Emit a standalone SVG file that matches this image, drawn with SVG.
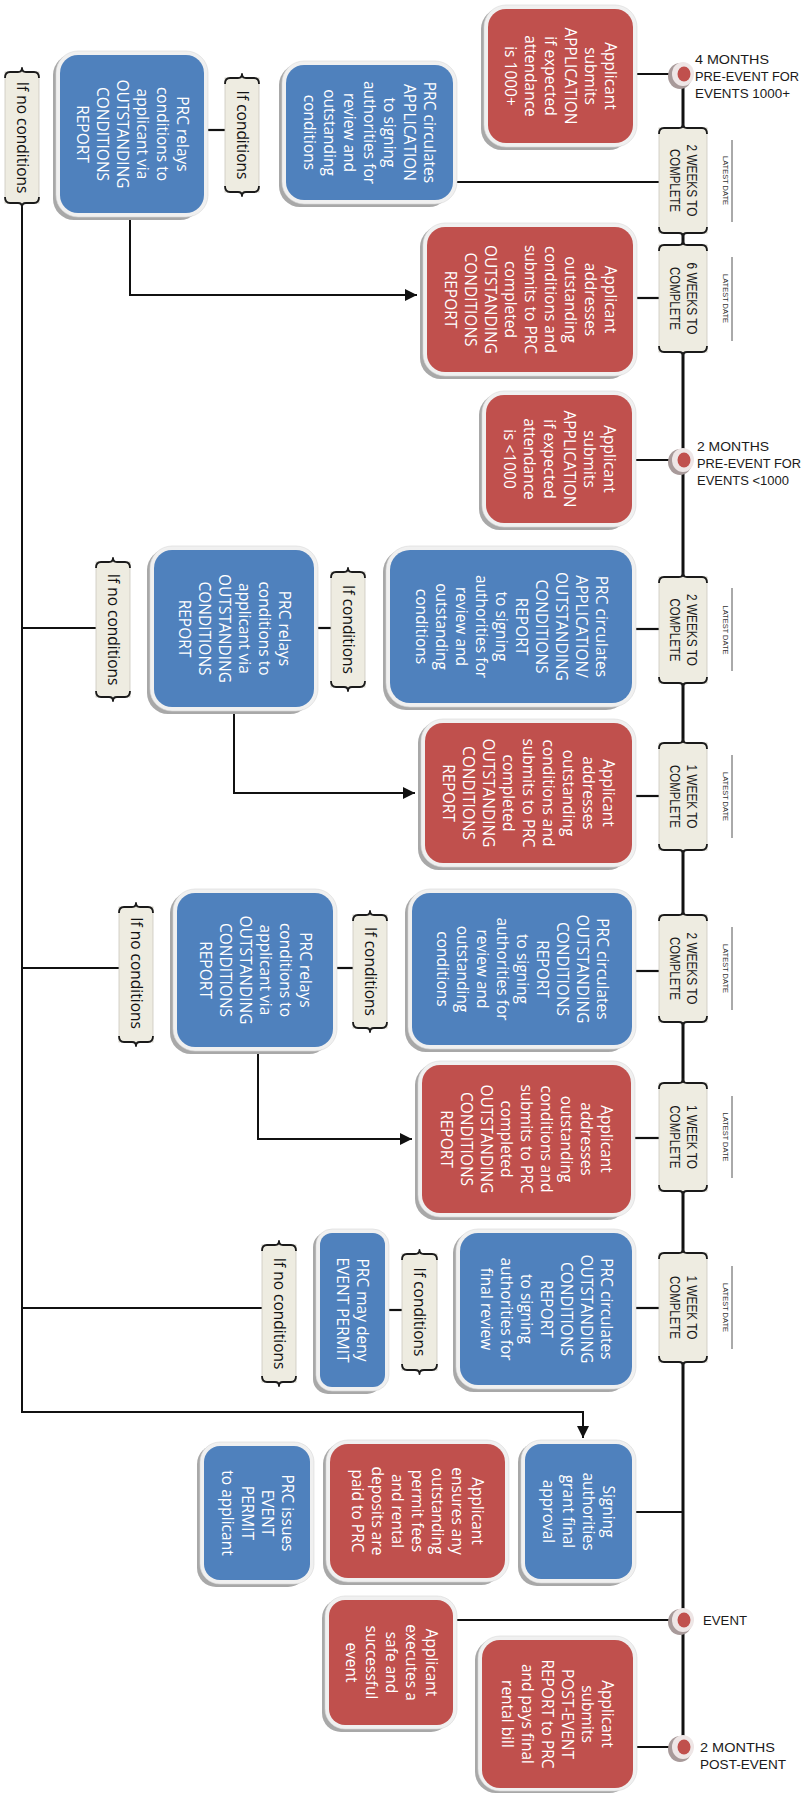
<svg xmlns="http://www.w3.org/2000/svg" width="810" height="1794" viewBox="0 0 810 1794">
<style>
.tl{stroke:#111;stroke-width:3;fill:none}
.cn{stroke:#111;stroke-width:2.2;fill:none}
.ar{stroke:#111;stroke-width:2;fill:none;marker-end:url(#ah)}
.shd{fill:#a8a8a8}
.rim{fill:#f0f0f0;stroke:#d8d8d8;stroke-width:0.6}
.bl{fill:#4f81bd}
.rd{fill:#c0504d}
.wt{font-family:"Open Sans","Noto Sans",sans-serif;font-size:15.5px;fill:#fff;text-anchor:middle}
.bt{font-family:"Open Sans","Noto Sans",sans-serif;font-size:15.5px;fill:#111;text-anchor:middle}
.bg{fill:#eeece1;stroke:#cac9be;stroke-width:0.8}
.br{fill:none;stroke:#1a1a1a;stroke-width:1.8;stroke-linejoin:round}
.dt{font-family:"Liberation Sans",Arial,sans-serif;font-size:14px;fill:#1a1a1a;text-anchor:middle}
.ld{font-family:"Liberation Sans",Arial,sans-serif;font-size:7.5px;fill:#333;text-anchor:middle}
.ll{stroke:#555;stroke-width:1}
.ml{font-family:"Liberation Sans",Arial,sans-serif;font-size:13px;fill:#1a1a1a}
.ring{fill:#eee6e6}
.rsh{fill:#a89a9a}
.dot{fill:#c0504d}
</style>
<defs>
<marker id="ah" markerUnits="userSpaceOnUse" markerWidth="12" markerHeight="12" refX="12" refY="6" orient="auto"><path d="M0,0 L12,6 L0,12 z" fill="#111"/></marker>
</defs>
<rect width="810" height="1794" fill="#fff"/>

<g id="connectors">
<line class="tl" x1="683" y1="74" x2="683" y2="1747"/>
<line class="cn" x1="636" y1="74" x2="683" y2="74"/>
<line class="cn" x1="456" y1="182" x2="659" y2="182"/>
<line class="cn" x1="636" y1="298" x2="659" y2="298"/>
<line class="cn" x1="636" y1="460" x2="683" y2="460"/>
<line class="cn" x1="636" y1="629" x2="659" y2="629"/>
<line class="cn" x1="636" y1="796" x2="659" y2="796"/>
<line class="cn" x1="636" y1="971" x2="659" y2="971"/>
<line class="cn" x1="635" y1="1138" x2="659" y2="1138"/>
<line class="cn" x1="636" y1="1308" x2="659" y2="1308"/>
<line class="cn" x1="636" y1="1512" x2="683" y2="1512"/>
<line class="cn" x1="457" y1="1620" x2="683" y2="1620"/>
<line class="cn" x1="637" y1="1747" x2="683" y2="1747"/>
<line class="cn" x1="208" y1="130" x2="225" y2="130"/>
<line class="cn" x1="318" y1="628" x2="331" y2="628"/>
<line class="cn" x1="337" y1="968" x2="353" y2="968"/>
<line class="cn" x1="389" y1="1310" x2="402" y2="1310"/>
<line class="cn" x1="22" y1="628" x2="96" y2="628"/>
<line class="cn" x1="22" y1="968" x2="119" y2="968"/>
<line class="cn" x1="22" y1="1308" x2="262" y2="1308"/>
<path class="ar" d="M22,207 V1412 H583 V1438"/>
<path class="ar" d="M130,217 V295 H417"/>
<path class="ar" d="M234,711 V793 H415"/>
<path class="ar" d="M258,1051 V1139 H412"/>
</g>

<g id="m1">
<ellipse class="rsh" cx="680" cy="76" rx="12" ry="13"/><ellipse class="ring" cx="683" cy="74" rx="11" ry="12"/><ellipse class="dot" cx="684" cy="74" rx="6.5" ry="7.5"/>
<text class="ml"><tspan x="695" y="64" textLength="74" lengthAdjust="spacingAndGlyphs">4 MONTHS</tspan><tspan x="695" y="81" textLength="104" lengthAdjust="spacingAndGlyphs">PRE-EVENT FOR</tspan><tspan x="695" y="98" textLength="95" lengthAdjust="spacingAndGlyphs">EVENTS 1000+</tspan></text>
</g>
<g id="m2">
<ellipse class="rsh" cx="680" cy="462" rx="12" ry="13"/><ellipse class="ring" cx="683" cy="460" rx="11" ry="12"/><ellipse class="dot" cx="684" cy="460" rx="6.5" ry="7.5"/>
<text class="ml"><tspan x="697" y="451" textLength="72" lengthAdjust="spacingAndGlyphs">2 MONTHS</tspan><tspan x="697" y="468" textLength="104" lengthAdjust="spacingAndGlyphs">PRE-EVENT FOR</tspan><tspan x="697" y="485" textLength="92" lengthAdjust="spacingAndGlyphs">EVENTS &lt;1000</tspan></text>
</g>
<g id="m3">
<ellipse class="rsh" cx="680" cy="1622" rx="12" ry="13"/><ellipse class="ring" cx="683" cy="1620" rx="11" ry="12"/><ellipse class="dot" cx="684" cy="1620" rx="6.5" ry="7.5"/>
<text class="ml"><tspan x="703" y="1625" textLength="44" lengthAdjust="spacingAndGlyphs">EVENT</tspan></text>
</g>
<g id="m4">
<ellipse class="rsh" cx="680" cy="1749" rx="12" ry="13"/><ellipse class="ring" cx="683" cy="1747" rx="11" ry="12"/><ellipse class="dot" cx="684" cy="1747" rx="6.5" ry="7.5"/>
<text class="ml"><tspan x="700" y="1752" textLength="75" lengthAdjust="spacingAndGlyphs">2 MONTHS</tspan><tspan x="700" y="1769" textLength="86" lengthAdjust="spacingAndGlyphs">POST-EVENT</tspan></text>
</g>

<g id="d1">
<rect class="bg" x="659" y="128" width="48" height="105"/>
<path class="br" d="M659,134 Q659,128 664,128 H679 Q683,128 683,124 Q683,128 687,128 H702 Q707,128 707,134"/>
<path class="br" d="M659,227 Q659,233 664,233 H679 Q683,233 683,237 Q683,233 687,233 H702 Q707,233 707,227"/>
<text class="dt" transform="translate(683,180.5) rotate(90)"><tspan x="0" y="-3.5" textLength="72" lengthAdjust="spacingAndGlyphs">2 WEEKS TO</tspan><tspan x="0" y="13.5" textLength="63" lengthAdjust="spacingAndGlyphs">COMPLETE</tspan></text>
<text class="ld" transform="translate(726,180.5) rotate(90)" x="0" y="2.7" textLength="49" lengthAdjust="spacingAndGlyphs">LATEST DATE</text>
<line class="ll" x1="732" y1="140" x2="732" y2="222"/>
</g>
<g id="d2">
<rect class="bg" x="659" y="245" width="48" height="107"/>
<path class="br" d="M659,251 Q659,245 664,245 H679 Q683,245 683,241 Q683,245 687,245 H702 Q707,245 707,251"/>
<path class="br" d="M659,346 Q659,352 664,352 H679 Q683,352 683,356 Q683,352 687,352 H702 Q707,352 707,346"/>
<text class="dt" transform="translate(683,298.5) rotate(90)"><tspan x="0" y="-3.5" textLength="72" lengthAdjust="spacingAndGlyphs">6 WEEKS TO</tspan><tspan x="0" y="13.5" textLength="63" lengthAdjust="spacingAndGlyphs">COMPLETE</tspan></text>
<text class="ld" transform="translate(726,298.5) rotate(90)" x="0" y="2.7" textLength="49" lengthAdjust="spacingAndGlyphs">LATEST DATE</text>
<line class="ll" x1="732" y1="257" x2="732" y2="341"/>
</g>
<g id="d3">
<rect class="bg" x="659" y="577" width="48" height="106"/>
<path class="br" d="M659,583 Q659,577 664,577 H679 Q683,577 683,573 Q683,577 687,577 H702 Q707,577 707,583"/>
<path class="br" d="M659,677 Q659,683 664,683 H679 Q683,683 683,687 Q683,683 687,683 H702 Q707,683 707,677"/>
<text class="dt" transform="translate(683,630) rotate(90)"><tspan x="0" y="-3.5" textLength="72" lengthAdjust="spacingAndGlyphs">2 WEEKS TO</tspan><tspan x="0" y="13.5" textLength="63" lengthAdjust="spacingAndGlyphs">COMPLETE</tspan></text>
<text class="ld" transform="translate(726,630) rotate(90)" x="0" y="2.7" textLength="49" lengthAdjust="spacingAndGlyphs">LATEST DATE</text>
<line class="ll" x1="732" y1="588" x2="732" y2="671"/>
</g>
<g id="d4">
<rect class="bg" x="659" y="743" width="48" height="107"/>
<path class="br" d="M659,749 Q659,743 664,743 H679 Q683,743 683,739 Q683,743 687,743 H702 Q707,743 707,749"/>
<path class="br" d="M659,844 Q659,850 664,850 H679 Q683,850 683,854 Q683,850 687,850 H702 Q707,850 707,844"/>
<text class="dt" transform="translate(683,796.5) rotate(90)"><tspan x="0" y="-3.5" textLength="64" lengthAdjust="spacingAndGlyphs">1 WEEK TO</tspan><tspan x="0" y="13.5" textLength="63" lengthAdjust="spacingAndGlyphs">COMPLETE</tspan></text>
<text class="ld" transform="translate(726,796.5) rotate(90)" x="0" y="2.7" textLength="49" lengthAdjust="spacingAndGlyphs">LATEST DATE</text>
<line class="ll" x1="732" y1="755" x2="732" y2="838"/>
</g>
<g id="d5">
<rect class="bg" x="659" y="915" width="48" height="107"/>
<path class="br" d="M659,921 Q659,915 664,915 H679 Q683,915 683,911 Q683,915 687,915 H702 Q707,915 707,921"/>
<path class="br" d="M659,1016 Q659,1022 664,1022 H679 Q683,1022 683,1026 Q683,1022 687,1022 H702 Q707,1022 707,1016"/>
<text class="dt" transform="translate(683,968.5) rotate(90)"><tspan x="0" y="-3.5" textLength="72" lengthAdjust="spacingAndGlyphs">2 WEEKS TO</tspan><tspan x="0" y="13.5" textLength="63" lengthAdjust="spacingAndGlyphs">COMPLETE</tspan></text>
<text class="ld" transform="translate(726,968.5) rotate(90)" x="0" y="2.7" textLength="49" lengthAdjust="spacingAndGlyphs">LATEST DATE</text>
<line class="ll" x1="732" y1="927" x2="732" y2="1010"/>
</g>
<g id="d6">
<rect class="bg" x="659" y="1083" width="48" height="108"/>
<path class="br" d="M659,1089 Q659,1083 664,1083 H679 Q683,1083 683,1079 Q683,1083 687,1083 H702 Q707,1083 707,1089"/>
<path class="br" d="M659,1185 Q659,1191 664,1191 H679 Q683,1191 683,1195 Q683,1191 687,1191 H702 Q707,1191 707,1185"/>
<text class="dt" transform="translate(683,1137) rotate(90)"><tspan x="0" y="-3.5" textLength="64" lengthAdjust="spacingAndGlyphs">1 WEEK TO</tspan><tspan x="0" y="13.5" textLength="63" lengthAdjust="spacingAndGlyphs">COMPLETE</tspan></text>
<text class="ld" transform="translate(726,1137) rotate(90)" x="0" y="2.7" textLength="49" lengthAdjust="spacingAndGlyphs">LATEST DATE</text>
<line class="ll" x1="732" y1="1096" x2="732" y2="1178"/>
</g>
<g id="d7">
<rect class="bg" x="659" y="1253" width="48" height="109"/>
<path class="br" d="M659,1259 Q659,1253 664,1253 H679 Q683,1253 683,1249 Q683,1253 687,1253 H702 Q707,1253 707,1259"/>
<path class="br" d="M659,1356 Q659,1362 664,1362 H679 Q683,1362 683,1366 Q683,1362 687,1362 H702 Q707,1362 707,1356"/>
<text class="dt" transform="translate(683,1307.5) rotate(90)"><tspan x="0" y="-3.5" textLength="64" lengthAdjust="spacingAndGlyphs">1 WEEK TO</tspan><tspan x="0" y="13.5" textLength="63" lengthAdjust="spacingAndGlyphs">COMPLETE</tspan></text>
<text class="ld" transform="translate(726,1307.5) rotate(90)" x="0" y="2.7" textLength="49" lengthAdjust="spacingAndGlyphs">LATEST DATE</text>
<line class="ll" x1="732" y1="1266" x2="732" y2="1349"/>
</g>

<g id="ifno1">
<rect class="bg" x="5" y="72" width="34" height="131"/>
<path class="br" d="M5,78 Q5,72 10,72 H18 Q22,72 22,68 Q22,72 26,72 H34 Q39,72 39,78"/>
<path class="br" d="M5,197 Q5,203 10,203 H18 Q22,203 22,207 Q22,203 26,203 H34 Q39,203 39,197"/>
<text class="bt" transform="translate(22,137.5) rotate(90)" x="0" y="5.5">If no conditions</text>
</g>
<g id="ifc1">
<rect class="bg" x="225" y="78" width="34" height="114"/>
<path class="br" d="M225,84 Q225,78 230,78 H238 Q242,78 242,74 Q242,78 246,78 H254 Q259,78 259,84"/>
<path class="br" d="M225,186 Q225,192 230,192 H238 Q242,192 242,196 Q242,192 246,192 H254 Q259,192 259,186"/>
<text class="bt" transform="translate(242,135) rotate(90)" x="0" y="5.5">If conditions</text>
</g>
<g id="ifno2">
<rect class="bg" x="96" y="562" width="34" height="135"/>
<path class="br" d="M96,568 Q96,562 101,562 H109 Q113,562 113,558 Q113,562 117,562 H125 Q130,562 130,568"/>
<path class="br" d="M96,691 Q96,697 101,697 H109 Q113,697 113,701 Q113,697 117,697 H125 Q130,697 130,691"/>
<text class="bt" transform="translate(113,629.5) rotate(90)" x="0" y="5.5">If no conditions</text>
</g>
<g id="ifc2">
<rect class="bg" x="331" y="572" width="34" height="115"/>
<path class="br" d="M331,578 Q331,572 336,572 H344 Q348,572 348,568 Q348,572 352,572 H360 Q365,572 365,578"/>
<path class="br" d="M331,681 Q331,687 336,687 H344 Q348,687 348,691 Q348,687 352,687 H360 Q365,687 365,681"/>
<text class="bt" transform="translate(348,629.5) rotate(90)" x="0" y="5.5">If conditions</text>
</g>
<g id="ifno3">
<rect class="bg" x="119" y="907" width="34" height="135"/>
<path class="br" d="M119,913 Q119,907 124,907 H132 Q136,907 136,903 Q136,907 140,907 H148 Q153,907 153,913"/>
<path class="br" d="M119,1036 Q119,1042 124,1042 H132 Q136,1042 136,1046 Q136,1042 140,1042 H148 Q153,1042 153,1036"/>
<text class="bt" transform="translate(136,973) rotate(90)" x="0" y="5.5">If no conditions</text>
</g>
<g id="ifc3">
<rect class="bg" x="353" y="915" width="34" height="113"/>
<path class="br" d="M353,921 Q353,915 358,915 H366 Q370,915 370,911 Q370,915 374,915 H382 Q387,915 387,921"/>
<path class="br" d="M353,1022 Q353,1028 358,1028 H366 Q370,1028 370,1032 Q370,1028 374,1028 H382 Q387,1028 387,1022"/>
<text class="bt" transform="translate(370,971.5) rotate(90)" x="0" y="5.5">If conditions</text>
</g>
<g id="ifno4">
<rect class="bg" x="262" y="1245" width="34" height="137"/>
<path class="br" d="M262,1251 Q262,1245 267,1245 H275 Q279,1245 279,1241 Q279,1245 283,1245 H291 Q296,1245 296,1251"/>
<path class="br" d="M262,1376 Q262,1382 267,1382 H275 Q279,1382 279,1386 Q279,1382 283,1382 H291 Q296,1382 296,1376"/>
<text class="bt" transform="translate(279,1313.5) rotate(90)" x="0" y="5.5">If no conditions</text>
</g>
<g id="ifc4">
<rect class="bg" x="402" y="1254" width="35" height="116"/>
<path class="br" d="M402,1260 Q402,1254 407,1254 H415 Q419.5,1254 419.5,1250 Q419.5,1254 424,1254 H432 Q437,1254 437,1260"/>
<path class="br" d="M402,1364 Q402,1370 407,1370 H415 Q419.5,1370 419.5,1374 Q419.5,1370 424,1370 H432 Q437,1370 437,1364"/>
<text class="bt" transform="translate(419.5,1312) rotate(90)" x="0" y="5.5">If conditions</text>
</g>

<g id="a1">
<rect class="shd" x="481" y="8" width="149" height="142" rx="21"/><rect class="rim" x="484" y="5" width="153" height="142" rx="22"/><rect class="rd" x="488" y="9" width="145" height="134" rx="18"/>
<text class="wt" transform="translate(560.5,76) rotate(90)"><tspan x="0" y="-44.5">Applicant</tspan><tspan x="0" dy="20">submits</tspan><tspan x="0" dy="20">APPLICATION</tspan><tspan x="0" dy="20">if expected</tspan><tspan x="0" dy="20">attendance</tspan><tspan x="0" dy="20">is 1000+</tspan></text>
</g>
<g id="b1">
<rect class="shd" x="279" y="64" width="171" height="143" rx="21"/><rect class="rim" x="282" y="61" width="175" height="143" rx="22"/><rect class="bl" x="286" y="65" width="167" height="135" rx="18"/>
<text class="wt" transform="translate(369.5,132.5) rotate(90)"><tspan x="0" y="-54.5">PRC circulates</tspan><tspan x="0" dy="20">APPLICATION</tspan><tspan x="0" dy="20">to signing</tspan><tspan x="0" dy="20">authorities for</tspan><tspan x="0" dy="20">review and</tspan><tspan x="0" dy="20">outstanding</tspan><tspan x="0" dy="20">conditions</tspan></text>
</g>
<g id="b2">
<rect class="shd" x="53" y="54" width="148" height="166" rx="21"/><rect class="rim" x="56" y="51" width="152" height="166" rx="22"/><rect class="bl" x="60" y="55" width="144" height="158" rx="18"/>
<text class="wt" transform="translate(132,134) rotate(90)"><tspan x="0" y="-44.5">PRC relays</tspan><tspan x="0" dy="20">conditions to</tspan><tspan x="0" dy="20">applicant via</tspan><tspan x="0" dy="20">OUTSTANDING</tspan><tspan x="0" dy="20">CONDITIONS</tspan><tspan x="0" dy="20">REPORT</tspan></text>
</g>
<g id="a2">
<rect class="shd" x="420" y="226" width="210" height="153" rx="21"/><rect class="rim" x="423" y="223" width="214" height="153" rx="22"/><rect class="rd" x="427" y="227" width="206" height="145" rx="18"/>
<text class="wt" transform="translate(530,299.5) rotate(90)"><tspan x="0" y="-74.5">Applicant</tspan><tspan x="0" dy="20">addresses</tspan><tspan x="0" dy="20">outstanding</tspan><tspan x="0" dy="20">conditions and</tspan><tspan x="0" dy="20">submits to PRC</tspan><tspan x="0" dy="20">completed</tspan><tspan x="0" dy="20">OUTSTANDING</tspan><tspan x="0" dy="20">CONDITIONS</tspan><tspan x="0" dy="20">REPORT</tspan></text>
</g>
<g id="a3">
<rect class="shd" x="479" y="394" width="150" height="136" rx="21"/><rect class="rim" x="482" y="391" width="154" height="136" rx="22"/><rect class="rd" x="486" y="395" width="146" height="128" rx="18"/>
<text class="wt" transform="translate(559,459) rotate(90)"><tspan x="0" y="-44.5">Applicant</tspan><tspan x="0" dy="20">submits</tspan><tspan x="0" dy="20">APPLICATION</tspan><tspan x="0" dy="20">if expected</tspan><tspan x="0" dy="20">attendance</tspan><tspan x="0" dy="20">is &lt;1000</tspan></text>
</g>
<g id="b3">
<rect class="shd" x="383" y="549" width="246" height="161" rx="23"/><rect class="rim" x="386" y="546" width="250" height="161" rx="24"/><rect class="bl" x="390" y="550" width="242" height="153" rx="20"/>
<text class="wt" transform="translate(511,626.5) rotate(90)"><tspan x="0" y="-84.5">PRC circulates</tspan><tspan x="0" dy="20">APPLICATION/</tspan><tspan x="0" dy="20">OUTSTANDING</tspan><tspan x="0" dy="20">CONDITIONS</tspan><tspan x="0" dy="20">REPORT</tspan><tspan x="0" dy="20">to signing</tspan><tspan x="0" dy="20">authorities for</tspan><tspan x="0" dy="20">review and</tspan><tspan x="0" dy="20">outstanding</tspan><tspan x="0" dy="20">conditions</tspan></text>
</g>
<g id="b4">
<rect class="shd" x="147" y="549" width="164" height="165" rx="21"/><rect class="rim" x="150" y="546" width="168" height="165" rx="22"/><rect class="bl" x="154" y="550" width="160" height="157" rx="18"/>
<text class="wt" transform="translate(234,628.5) rotate(90)"><tspan x="0" y="-44.5">PRC relays</tspan><tspan x="0" dy="20">conditions to</tspan><tspan x="0" dy="20">applicant via</tspan><tspan x="0" dy="20">OUTSTANDING</tspan><tspan x="0" dy="20">CONDITIONS</tspan><tspan x="0" dy="20">REPORT</tspan></text>
</g>
<g id="a4">
<rect class="shd" x="418" y="722" width="211" height="148" rx="21"/><rect class="rim" x="421" y="719" width="215" height="148" rx="22"/><rect class="rd" x="425" y="723" width="207" height="140" rx="18"/>
<text class="wt" transform="translate(528.5,793) rotate(90)"><tspan x="0" y="-74.5">Applicant</tspan><tspan x="0" dy="20">addresses</tspan><tspan x="0" dy="20">outstanding</tspan><tspan x="0" dy="20">conditions and</tspan><tspan x="0" dy="20">submits to PRC</tspan><tspan x="0" dy="20">completed</tspan><tspan x="0" dy="20">OUTSTANDING</tspan><tspan x="0" dy="20">CONDITIONS</tspan><tspan x="0" dy="20">REPORT</tspan></text>
</g>
<g id="b5">
<rect class="shd" x="405" y="892" width="224" height="160" rx="21"/><rect class="rim" x="408" y="889" width="228" height="160" rx="22"/><rect class="bl" x="412" y="893" width="220" height="152" rx="18"/>
<text class="wt" transform="translate(522,969) rotate(90)"><tspan x="0" y="-74.5">PRC circulates</tspan><tspan x="0" dy="20">OUTSTANDING</tspan><tspan x="0" dy="20">CONDITIONS</tspan><tspan x="0" dy="20">REPORT</tspan><tspan x="0" dy="20">to signing</tspan><tspan x="0" dy="20">authorities for</tspan><tspan x="0" dy="20">review and</tspan><tspan x="0" dy="20">outstanding</tspan><tspan x="0" dy="20">conditions</tspan></text>
</g>
<g id="b6">
<rect class="shd" x="170" y="892" width="160" height="162" rx="21"/><rect class="rim" x="173" y="889" width="164" height="162" rx="22"/><rect class="bl" x="177" y="893" width="156" height="154" rx="18"/>
<text class="wt" transform="translate(255,970) rotate(90)"><tspan x="0" y="-44.5">PRC relays</tspan><tspan x="0" dy="20">conditions to</tspan><tspan x="0" dy="20">applicant via</tspan><tspan x="0" dy="20">OUTSTANDING</tspan><tspan x="0" dy="20">CONDITIONS</tspan><tspan x="0" dy="20">REPORT</tspan></text>
</g>
<g id="a5">
<rect class="shd" x="415" y="1064" width="213" height="156" rx="21"/><rect class="rim" x="418" y="1061" width="217" height="156" rx="22"/><rect class="rd" x="422" y="1065" width="209" height="148" rx="18"/>
<text class="wt" transform="translate(526.5,1139) rotate(90)"><tspan x="0" y="-74.5">Applicant</tspan><tspan x="0" dy="20">addresses</tspan><tspan x="0" dy="20">outstanding</tspan><tspan x="0" dy="20">conditions and</tspan><tspan x="0" dy="20">submits to PRC</tspan><tspan x="0" dy="20">completed</tspan><tspan x="0" dy="20">OUTSTANDING</tspan><tspan x="0" dy="20">CONDITIONS</tspan><tspan x="0" dy="20">REPORT</tspan></text>
</g>
<g id="b7">
<rect class="shd" x="453" y="1232" width="176" height="160" rx="21"/><rect class="rim" x="456" y="1229" width="180" height="160" rx="22"/><rect class="bl" x="460" y="1233" width="172" height="152" rx="18"/>
<text class="wt" transform="translate(546,1309) rotate(90)"><tspan x="0" y="-54.5">PRC circulates</tspan><tspan x="0" dy="20">OUTSTANDING</tspan><tspan x="0" dy="20">CONDITIONS</tspan><tspan x="0" dy="20">REPORT</tspan><tspan x="0" dy="20">to signing</tspan><tspan x="0" dy="20">authorities for</tspan><tspan x="0" dy="20">final review</tspan></text>
</g>
<g id="b8">
<rect class="shd" x="313" y="1232" width="69" height="162" rx="15"/><rect class="rim" x="316" y="1229" width="73" height="162" rx="16"/><rect class="bl" x="320" y="1233" width="65" height="154" rx="12"/>
<text class="wt" transform="translate(352.5,1310) rotate(90)"><tspan x="0" y="-4.5">PRC may deny</tspan><tspan x="0" dy="20">EVENT PERMIT</tspan></text>
</g>
<g id="b9">
<rect class="shd" x="518" y="1443" width="111" height="143" rx="19"/><rect class="rim" x="521" y="1440" width="115" height="143" rx="20"/><rect class="bl" x="525" y="1444" width="107" height="135" rx="16"/>
<text class="wt" transform="translate(578.5,1511.5) rotate(90)"><tspan x="0" y="-24.5">Signing</tspan><tspan x="0" dy="20">authorities</tspan><tspan x="0" dy="20">grant final</tspan><tspan x="0" dy="20">approval</tspan></text>
</g>
<g id="a6">
<rect class="shd" x="323" y="1443" width="179" height="142" rx="21"/><rect class="rim" x="326" y="1440" width="183" height="142" rx="22"/><rect class="rd" x="330" y="1444" width="175" height="134" rx="18"/>
<text class="wt" transform="translate(417.5,1511) rotate(90)"><tspan x="0" y="-54.5">Applicant</tspan><tspan x="0" dy="20">ensures any</tspan><tspan x="0" dy="20">outstanding</tspan><tspan x="0" dy="20">permit fees</tspan><tspan x="0" dy="20">and rental</tspan><tspan x="0" dy="20">deposits are</tspan><tspan x="0" dy="20">paid to PRC</tspan></text>
</g>
<g id="b10">
<rect class="shd" x="197" y="1445" width="110" height="142" rx="19"/><rect class="rim" x="200" y="1442" width="114" height="142" rx="20"/><rect class="bl" x="204" y="1446" width="106" height="134" rx="16"/>
<text class="wt" transform="translate(257,1513) rotate(90)"><tspan x="0" y="-24.5">PRC issues</tspan><tspan x="0" dy="20">EVENT</tspan><tspan x="0" dy="20">PERMIT</tspan><tspan x="0" dy="20">to applicant</tspan></text>
</g>
<g id="a7">
<rect class="shd" x="322" y="1599" width="128" height="133" rx="19"/><rect class="rim" x="325" y="1596" width="132" height="133" rx="20"/><rect class="rd" x="329" y="1600" width="124" height="125" rx="16"/>
<text class="wt" transform="translate(391,1662.5) rotate(90)"><tspan x="0" y="-34.5">Applicant</tspan><tspan x="0" dy="20">executes a</tspan><tspan x="0" dy="20">safe and</tspan><tspan x="0" dy="20">successful</tspan><tspan x="0" dy="20">event</tspan></text>
</g>
<g id="a8">
<rect class="shd" x="475" y="1639" width="155" height="154" rx="21"/><rect class="rim" x="478" y="1636" width="159" height="155" rx="22"/><rect class="rd" x="482" y="1640" width="151" height="148" rx="18"/>
<text class="wt" transform="translate(557.5,1714) rotate(90)"><tspan x="0" y="-44.5">Applicant</tspan><tspan x="0" dy="20">submits</tspan><tspan x="0" dy="20">POST-EVENT</tspan><tspan x="0" dy="20">REPORT to PRC</tspan><tspan x="0" dy="20">and pays final</tspan><tspan x="0" dy="20">rental bill</tspan></text>
</g>
</svg>
